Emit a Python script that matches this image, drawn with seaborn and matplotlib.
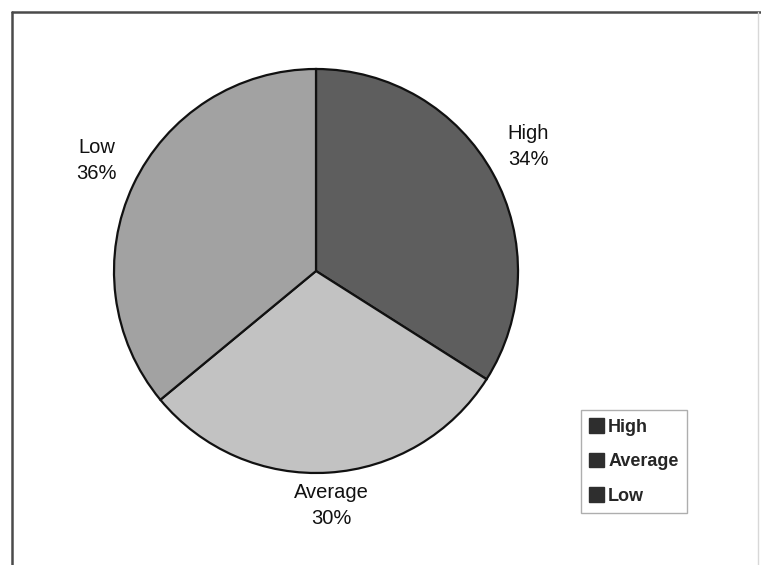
import matplotlib
matplotlib.use("Agg")
import matplotlib.pyplot as plt
import matplotlib.transforms as mtransforms
from matplotlib.lines import Line2D
from matplotlib.patches import Patch
import seaborn as sns

categories = ["High", "Average", "Low"]
shares = [34, 30, 36]
slice_colors = ["#5e5e5e", "#c2c2c2", "#a2a2a2"]
legend_color = "#2e2e2e"

sns.set_theme(style="white")
plt.rcParams["font.family"] = ["Liberation Sans", "DejaVu Sans"]

W, H = 761, 565
fig = plt.figure(figsize=(W / 100, H / 100), dpi=100)
fig.patch.set_facecolor("white")

# pie centre and radius in pixels
cx, cy, r = 316, 271, 202
ax = fig.add_axes([(cx - r) / W, (H - cy - r) / H, 2 * r / W, 2 * r / H])

labels = [f"{c}\n{v}%" for c, v in zip(categories, shares)]
wedges, texts = ax.pie(
    shares,
    labels=labels,
    colors=slice_colors,
    startangle=90,
    counterclock=False,
    labeldistance=1.2,
    wedgeprops=dict(edgecolor="#111111", linewidth=1.6),
    textprops=dict(fontsize=14.5, color="#111111", linespacing=1.45),
)
# centre the category labels and lift them slightly
lift = mtransforms.ScaledTranslation(0, 5.5 / 72, fig.dpi_scale_trans)
for t in texts:
    t.set_horizontalalignment("center")
    t.set_verticalalignment("center")
    t.set_transform(t.get_transform() + lift)
ax.set_xlim(-1, 1)
ax.set_ylim(-1, 1)
ax.set_axis_off()

# legend with dark swatches
handles = [Patch(facecolor=legend_color, edgecolor=legend_color) for _ in categories]
leg = fig.legend(
    handles, categories,
    loc="upper left",
    bbox_to_anchor=(581 / W, 1 - 410 / H),
    frameon=True, fancybox=False, shadow=False,
    prop=dict(size=13, weight="bold"),
    handlelength=0.85, handleheight=0.85, handletextpad=0.2,
    labelspacing=0.95, borderpad=0.45, borderaxespad=0,
)
leg.get_frame().set_edgecolor("#9a9a9a")
leg.get_frame().set_linewidth(1.0)

# chart area border (top and left dark, right faint)
fig.add_artist(Line2D([12 / W, 1.0], [1 - 12 / H] * 2, transform=fig.transFigure,
                      color="#4a4a4a", linewidth=1.8))
fig.add_artist(Line2D([12 / W] * 2, [0.0, 1 - 12 / H], transform=fig.transFigure,
                      color="#4a4a4a", linewidth=1.8))
fig.add_artist(Line2D([758 / W] * 2, [0.0, 1 - 12 / H], transform=fig.transFigure,
                      color="#d8d8d8", linewidth=1.0))

fig.savefig("out.png", dpi=100)
